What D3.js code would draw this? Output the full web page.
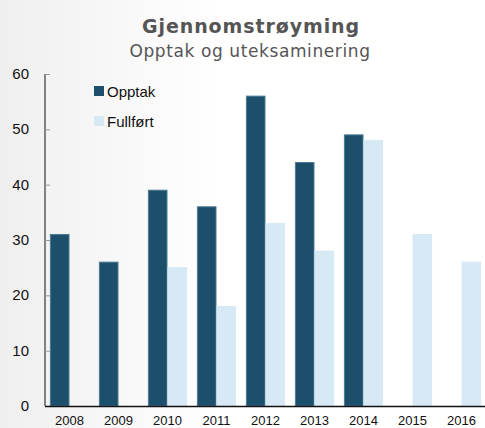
<!DOCTYPE html>
<html>
<head>
<meta charset="utf-8">
<script src="https://cdn.jsdelivr.net/npm/d3@7"></script>
<style>
  body { margin: 0; padding: 0; }
  svg { display: block; }
  .axis-label { font-family: "Liberation Sans", Arial, sans-serif; fill: #111; }
  .chart-title { font-family: "DejaVu Sans", Verdana, sans-serif; fill: #555; }
</style>
</head>
<body>
<div id="chart"></div>
<script>
  // data
  var years = ["2008", "2009", "2010", "2011", "2012", "2013", "2014", "2015", "2016"];
  var opptak = [31, 26, 39, 36, 56, 44, 49, 0, 0];
  var fullfort = [0, 0, 25, 18, 33, 28, 48, 31, 26];
  var seriesNames = ["Opptak", "Fullført"];
  var yTicks = [0, 10, 20, 30, 40, 50, 60];

  (function () {
    var width = 485, height = 428;
    var colors = ["#1b4f6b", "#d6e9f5"];
    var strokes = ["#4d7b93", "#d6e9f5"];

    var svg = d3.select("#chart").append("svg")
      .attr("width", width)
      .attr("height", height);

    // background: soft grey at the left fading to white
    var defs = svg.append("defs");
    var grad = defs.append("linearGradient").attr("id", "bg")
      .attr("x1", "0").attr("x2", "1").attr("y1", "0").attr("y2", "0");
    grad.append("stop").attr("offset", "0").attr("stop-color", "#efefef");
    grad.append("stop").attr("offset", "0.45").attr("stop-color", "#ffffff");
    grad.append("stop").attr("offset", "1").attr("stop-color", "#ffffff");
    svg.append("rect").attr("width", width).attr("height", height).attr("fill", "url(#bg)");

    var padLeft = 45, plotRight = 486, plotTop = 74, plotBottom = 406;

    var x = d3.scaleBand().domain(years).range([padLeft, plotRight]).paddingInner(0.2).paddingOuter(0.1);
    var x1 = d3.scaleBand().domain(seriesNames).range([0, x.bandwidth()]);
    var y = d3.scaleLinear().domain([0, 60]).range([plotBottom, plotTop]);

    // titles
    svg.append("text")
      .attr("class", "chart-title")
      .attr("x", 251).attr("y", 33)
      .attr("text-anchor", "middle")
      .style("font-size", "19px")
      .style("font-weight", "bold")
      .style("letter-spacing", "0.9px")
      .text("Gjennomstrøyming");
    svg.append("text")
      .attr("class", "chart-title")
      .attr("x", 250).attr("y", 57)
      .attr("text-anchor", "middle")
      .style("font-size", "17px")
      .style("letter-spacing", "0.6px")
      .text("Opptak og uteksaminering");

    // bars
    var data = years.map(function (yr, i) {
      return { year: yr, values: [opptak[i], fullfort[i]] };
    });
    var groups = svg.append("g").selectAll("g")
      .data(data).enter().append("g")
      .attr("transform", function (d) { return "translate(" + x(d.year) + ",0)"; });
    groups.selectAll("rect")
      .data(function (d) {
        return d.values.map(function (v, si) { return { v: v, si: si }; })
          .filter(function (e) { return e.v > 0; });
      })
      .enter().append("rect")
      .attr("x", function (d) { return x1(seriesNames[d.si]) + 0.5; })
      .attr("width", x1.bandwidth() - 1)
      .attr("y", function (d) { return y(d.v); })
      .attr("height", function (d) { return y(0) - y(d.v); })
      .attr("fill", function (d) { return colors[d.si]; })
      .attr("stroke", function (d) { return strokes[d.si]; })
      .attr("stroke-width", 1);

    // y axis
    var yAxis = svg.append("g")
      .attr("transform", "translate(" + padLeft + ",0)")
      .call(d3.axisRight(y).tickValues(yTicks).tickSize(5).tickFormat(""));
    yAxis.select(".domain").attr("stroke", "#111").attr("d", "M0," + plotTop + "V" + plotBottom);
    yAxis.selectAll(".tick line").attr("stroke", "#999");

    svg.append("g").selectAll("text")
      .data(yTicks).enter().append("text")
      .attr("class", "axis-label")
      .attr("x", 29)
      .attr("y", function (d) { return y(d) + 5; })
      .attr("text-anchor", "end")
      .style("font-size", "15px")
      .text(function (d) { return d; });

    // x axis
    svg.append("line")
      .attr("x1", padLeft).attr("x2", width)
      .attr("y1", plotBottom + 0.5).attr("y2", plotBottom + 0.5)
      .attr("stroke", "#111").attr("stroke-width", 1.5);

    svg.append("g").selectAll("text")
      .data(years).enter().append("text")
      .attr("class", "axis-label")
      .attr("x", function (d) { return x(d) + x.bandwidth() / 2; })
      .attr("y", 425)
      .attr("text-anchor", "middle")
      .style("font-size", "13px")
      .text(function (d) { return d; });

    // legend
    var legend = svg.append("g").attr("transform", "translate(94,86)");
    seriesNames.forEach(function (name, i) {
      var g = legend.append("g").attr("transform", "translate(0," + (i * 30) + ")");
      g.append("rect")
        .attr("width", 10).attr("height", 10)
        .attr("fill", colors[i]);
      g.append("text")
        .attr("class", "axis-label")
        .attr("x", 13).attr("y", 10.5)
        .style("font-size", "15px")
        .text(name);
    });
  })();
</script>
</body>
</html>
